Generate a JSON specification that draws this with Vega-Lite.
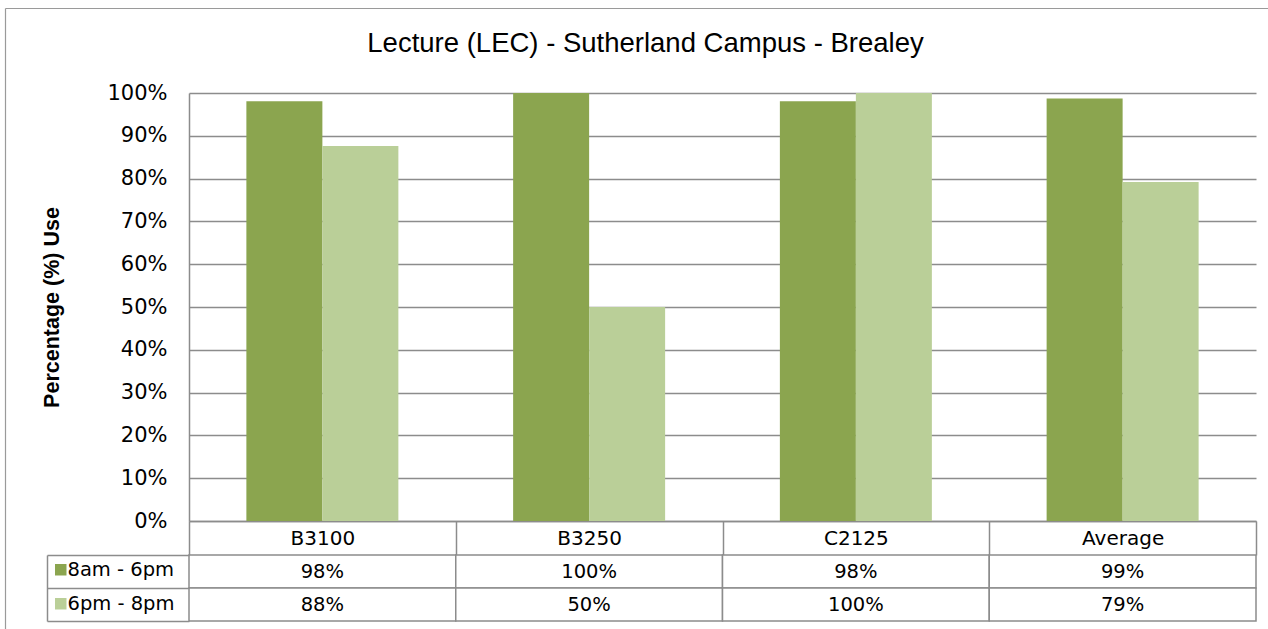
{
  "$schema": "https://vega.github.io/schema/vega-lite/v6.json",
  "width": 1067,
  "height": 528,
  "autosize": {"type": "none"},
  "padding": {"left": 189, "top": 93, "right": 12, "bottom": 8},
  "background": "white",
  "title": {
    "text": "Lecture (LEC) - Sutherland Campus - Brealey",
    "font": "Liberation Sans",
    "fontSize": 27.5,
    "fontWeight": "normal",
    "color": "black",
    "anchor": "middle",
    "baseline": "alphabetic",
    "dx": -77,
    "offset": -74
  },
  "config": {"view": {"stroke": null}, "font": "DejaVu Sans"},
  "data": {
    "values": [
      {"room": "B3100", "period": "8am - 6pm", "pct": 0.981},
      {"room": "B3100", "period": "6pm - 8pm", "pct": 0.876},
      {"room": "B3250", "period": "8am - 6pm", "pct": 1.0},
      {"room": "B3250", "period": "6pm - 8pm", "pct": 0.5},
      {"room": "C2125", "period": "8am - 6pm", "pct": 0.981},
      {"room": "C2125", "period": "6pm - 8pm", "pct": 1.0},
      {"room": "Average", "period": "8am - 6pm", "pct": 0.987},
      {"room": "Average", "period": "6pm - 8pm", "pct": 0.792}
    ]
  },
  "layer": [
    {
      "mark": {"type": "bar"},
      "encoding": {
        "x": {
          "field": "room",
          "type": "nominal",
          "sort": null,
          "scale": {"paddingInner": 0, "paddingOuter": 0},
          "axis": {
            "orient": "bottom",
            "offset": -100,
            "title": null,
            "tickBand": "extent",
            "tickSize": 34,
            "tickColor": "#8c8c8c",
            "tickWidth": 1.5,
            "domainColor": "#8c8c8c",
            "domainWidth": 1.5,
            "labelAngle": 0,
            "labelFontSize": 20,
            "labelColor": "black",
            "labelBaseline": "middle",
            "labelPadding": -17
          }
        },
        "xOffset": {
          "field": "period",
          "type": "nominal",
          "sort": ["8am - 6pm", "6pm - 8pm"],
          "scale": {"paddingInner": 0, "paddingOuter": 0.755}
        },
        "y": {
          "field": "pct",
          "type": "quantitative",
          "scale": {"domain": [0, 1], "range": [428, 0], "nice": false},
          "axis": {
            "orient": "left",
            "values": [0, 0.1, 0.2, 0.3, 0.4, 0.5, 0.6, 0.7, 0.8, 0.9, 1],
            "format": ".0%",
            "grid": true,
            "gridColor": "#8c8c8c",
            "gridWidth": 1.5,
            "ticks": false,
            "domain": true,
            "domainColor": "#8c8c8c",
            "domainWidth": 1.5,
            "labelPadding": 22,
            "labelFontSize": 21,
            "labelColor": "black",
            "title": "Percentage (%) Use",
            "titleFont": "Liberation Sans",
            "titleFontSize": 21.5,
            "titleFontWeight": "bold",
            "titleColor": "black",
            "titleAngle": -90,
            "titleAlign": "center",
            "titleBaseline": "middle",
            "titleX": -137,
            "titleY": 214
          }
        },
        "color": {
          "field": "period",
          "type": "nominal",
          "scale": {"domain": ["8am - 6pm", "6pm - 8pm"], "range": ["#8ba54f", "#bacf98"]},
          "legend": {
            "orient": "none",
            "legendX": -138,
            "legendY": 467,
            "title": null,
            "direction": "vertical",
            "symbolType": "square",
            "symbolSize": 132,
            "symbolStrokeWidth": 0,
            "labelFont": "DejaVu Sans",
            "labelFontSize": 19.5,
            "labelColor": "black",
            "labelOffset": -3,
            "rowPadding": 13,
            "padding": 0
          }
        }
      }
    },
    {
      "encoding": {
        "x": {"field": "room", "type": "nominal", "sort": null, "scale": {"paddingInner": 0, "paddingOuter": 0}, "axis": null},
        "y": {
          "field": "period",
          "type": "nominal",
          "sort": ["8am - 6pm", "6pm - 8pm"],
          "scale": {"domain": ["8am - 6pm", "6pm - 8pm"], "range": [462, 528], "paddingInner": 0, "paddingOuter": 0},
          "axis": {
            "orient": "left",
            "offset": 142,
            "title": null,
            "labels": false,
            "tickBand": "extent",
            "tickSize": -142,
            "tickColor": "#8c8c8c",
            "tickWidth": 1.5,
            "domainColor": "#8c8c8c",
            "domainWidth": 1.5
          }
        }
      },
      "layer": [
        {"mark": {"type": "rect", "fill": "white", "stroke": "#8c8c8c", "strokeWidth": 1.5}},
        {
          "mark": {"type": "text", "fontSize": 19.5, "color": "black", "font": "DejaVu Sans"},
          "encoding": {"text": {"field": "pct", "type": "quantitative", "format": ".0%"}}
        }
      ]
    },
    {
      "mark": {"type": "point", "opacity": 0},
      "encoding": {
        "x": {
          "field": "room",
          "type": "nominal",
          "sort": null,
          "scale": {"range": [-184, 1200]},
          "axis": {"orient": "top", "offset": 85, "title": null, "labels": false, "ticks": false, "domainColor": "#9a9a9a", "domainWidth": 1.2}
        },
        "y": {
          "field": "pct",
          "type": "quantitative",
          "scale": {"domain": [0, 1], "range": [560, -85], "nice": false},
          "axis": {"orient": "left", "offset": 184, "title": null, "labels": false, "ticks": false, "grid": false, "domainColor": "#9a9a9a", "domainWidth": 1.2}
        }
      }
    }
  ],
  "resolve": {"scale": {"x": "independent", "y": "independent"}, "axis": {"x": "independent", "y": "independent"}}
}
